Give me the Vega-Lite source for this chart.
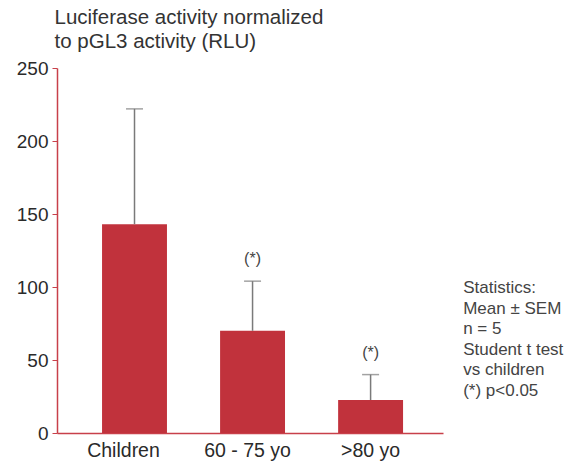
{
  "$schema": "https://vega.github.io/schema/vega-lite/v6.json",
  "width": 386,
  "height": 365,
  "autosize": {"type": "none"},
  "padding": {"left": 57, "top": 68, "right": 130, "bottom": 30},
  "background": "white",
  "config": {
    "font": "Liberation Sans",
    "view": {"stroke": null}
  },
  "title": {
    "text": ["Statistics:", "Mean ± SEM", "n = 5", "Student t test", "vs children", "(*) p<0.05"],
    "orient": "right",
    "angle": 0,
    "anchor": "start",
    "align": "left",
    "baseline": "top",
    "frame": "group",
    "offset": -80,
    "dy": 212,
    "fontSize": 17,
    "fontWeight": "normal",
    "lineHeight": 20.5,
    "color": "#444444",
    "font": "Liberation Sans"
  },
  "data": {
    "values": [
      {"group": "Children", "mean": 143, "upper": 222, "sig": ""},
      {"group": "60 - 75 yo", "mean": 70, "upper": 104, "sig": "(*)"},
      {"group": ">80 yo", "mean": 22.6, "upper": 40, "sig": "(*)"}
    ]
  },
  "encoding": {
    "x": {
      "field": "group",
      "type": "nominal",
      "sort": null,
      "scale": {"paddingInner": 0.45, "paddingOuter": 0.36, "align": 0.53},
      "axis": {
        "title": null,
        "labelAngle": 0,
        "labelFontSize": 19.5,
        "labelColor": "#2a2a2a",
        "labelPadding": 8,
        "labelOffset": {"expr": "datum.value === 'Children' ? -11 : datum.value === '60 - 75 yo' ? -5 : 0"},
        "ticks": false,
        "domainColor": "#c8404a",
        "domainWidth": 1.5
      }
    }
  },
  "layer": [
    {
      "mark": {"type": "bar", "color": "#c1323c"},
      "encoding": {
        "y": {
          "field": "mean",
          "type": "quantitative",
          "scale": {"domain": [0, 250], "nice": false},
          "axis": {
            "values": [0, 50, 100, 150, 200, 250],
            "grid": false,
            "domainColor": "#c8404a",
            "domainWidth": 1.5,
            "tickColor": "#c8404a",
            "tickSize": 5,
            "tickWidth": 1,
            "labelFontSize": 19,
            "labelColor": "#2a2a2a",
            "labelPadding": 4,
            "title": ["Luciferase activity normalized", "to pGL3 activity (RLU)"],
            "titleAngle": 0,
            "titleAlign": "left",
            "titleBaseline": "top",
            "titleX": -3,
            "titleY": -61,
            "titleFontSize": 20.5,
            "titleFontWeight": "normal",
            "titleColor": "#333333",
            "titleLineHeight": 24
          }
        }
      }
    },
    {
      "mark": {"type": "rule", "color": "#7a7a7a", "strokeWidth": 1.5},
      "encoding": {
        "y": {"field": "mean", "type": "quantitative"},
        "y2": {"field": "upper"}
      }
    },
    {
      "mark": {"type": "tick", "orient": "horizontal", "color": "#7a7a7a", "size": 17, "thickness": 1.5},
      "encoding": {
        "y": {"field": "upper", "type": "quantitative"}
      }
    },
    {
      "mark": {"type": "text", "baseline": "middle", "dy": -22, "fontSize": 16, "color": "#444444"},
      "encoding": {
        "y": {"field": "upper", "type": "quantitative"},
        "text": {"field": "sig"}
      }
    }
  ]
}
